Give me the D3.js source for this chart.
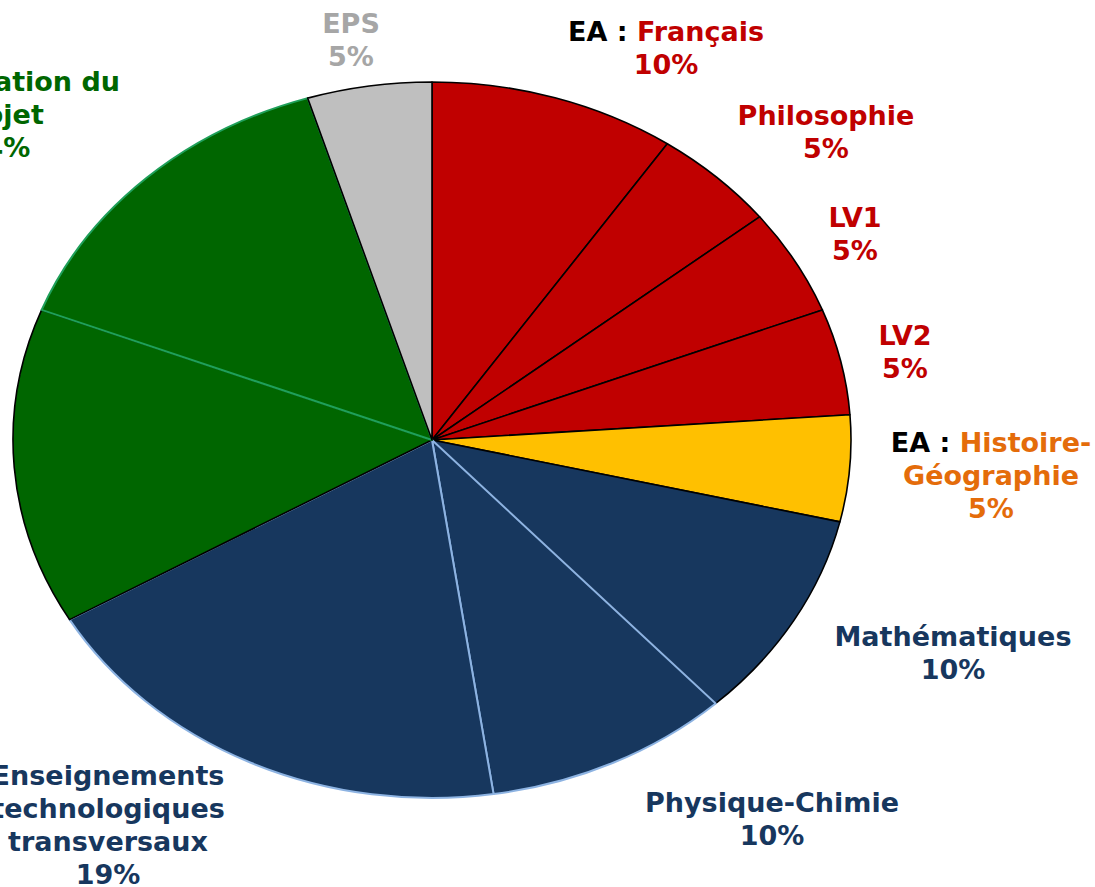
<!DOCTYPE html>
<html>
<head>
<meta charset="utf-8">
<script src="https://cdn.jsdelivr.net/npm/d3@7"></script>
<style>
  html, body { margin: 0; padding: 0; background: #fff; overflow: hidden; }
  text { font-family: "DejaVu Sans", Verdana, sans-serif; font-weight: bold; font-size: 27px; }
</style>
</head>
<body>
<div id="vis"></div>
<script>
// Data (share of the total, clockwise from 12 o'clock)
var subjects = ['Français', 'Philosophie', 'LV1', 'LV2', 'Histoire-Géographie',
  'Mathématiques', 'Physique-Chimie', 'Enseignements technologiques transversaux',
  'Enseignement spécifique', 'Présentation du projet', 'EPS'];
var shares = [9.5, 4.8, 4.8, 4.8, 4.8, 9.5, 9.5, 19.0, 14.3, 14.3, 4.8];
var shareLabels = ['10%', '5%', '5%', '5%', '5%', '10%', '10%', '19%', '14%', '14%', '5%'];
var groups = ['red', 'red', 'red', 'red', 'yellow', 'blue', 'blue', 'blue', 'green', 'green', 'gray'];

// Constants for sizing
var width = 1095;
var height = 887;
var center = { x: 432, y: 440 };
var rx = 419;
var ry = 358;

var fillColor = {
  red: '#C00000', yellow: '#FFC000', blue: '#17375E', green: '#006600', gray: '#BFBFBF'
};
var textColor = {
  red: '#C00000', yellow: '#E46C0A', blue: '#17375E', green: '#006600', gray: '#A6A6A6'
};
// outline of each slice (slices are drawn in order, later ones cover shared edges)
var sliceStroke = {
  'Physique-Chimie': '#8DB3E2',
  'Enseignements technologiques transversaux': '#8DB3E2',
  'Présentation du projet': '#1FA05A'
};

// label layout: centre x, first baseline, text lines (prefix "EA : " drawn in black)
var labelLayout = {
  'Français': { x: 666, y: 41, lines: ['Français'], prefix: 'EA : ' },
  'Philosophie': { x: 826, y: 125, lines: ['Philosophie'] },
  'LV1': { x: 855, y: 227, lines: ['LV1'] },
  'LV2': { x: 905, y: 345, lines: ['LV2'] },
  'Histoire-Géographie': { x: 991, y: 452, lines: ['Histoire-', 'Géographie'], prefix: 'EA : ' },
  'Mathématiques': { x: 953, y: 646, lines: ['Mathématiques'] },
  'Physique-Chimie': { x: 772, y: 812, lines: ['Physique-Chimie'] },
  'Enseignements technologiques transversaux': { x: 108, y: 785, lines: ['Enseignements', 'technologiques', 'transversaux'] },
  'Présentation du projet': { x: -2, y: 91, lines: ['Présentation du', 'projet'] },
  'EPS': { x: 351, y: 33, lines: ['EPS'] }
};
var lineHeight = 33;

var nodes = subjects.map(function (s, i) {
  return { name: s, value: shares[i], label: shareLabels[i], group: groups[i] };
});

var svg = d3.select('#vis')
  .append('svg')
  .attr('width', width)
  .attr('height', height);

var pie = d3.pie()
  .sort(null)
  .value(function (d) { return d.value; });

var arc = d3.arc()
  .innerRadius(0)
  .outerRadius(ry);

// pie is drawn as a circle then stretched horizontally into an ellipse
var pieG = svg.append('g')
  .attr('transform', 'translate(' + center.x + ',' + center.y + ') scale(' + (rx / ry) + ',1)');

pieG.selectAll('.slice')
  .data(pie(nodes))
  .enter().append('path')
  .attr('class', 'slice')
  .attr('d', arc)
  .attr('fill', function (d) { return fillColor[d.data.group]; })
  .attr('stroke', function (d) { return sliceStroke[d.data.name] || '#000'; })
  .attr('stroke-width', function (d) { return sliceStroke[d.data.name] ? 2 : 1.6; })
  .attr('stroke-linejoin', 'round')
  .attr('vector-effect', 'non-scaling-stroke');

// labels
var labels = svg.selectAll('.label')
  .data(nodes.filter(function (d) { return labelLayout[d.name]; }))
  .enter().append('text')
  .attr('class', 'label')
  .attr('text-anchor', 'middle')
  .attr('fill', function (d) { return textColor[d.group]; });

labels.each(function (d) {
  var pos = labelLayout[d.name];
  var t = d3.select(this);
  var lines = pos.lines.concat([d.label]);
  lines.forEach(function (line, i) {
    var ts = t.append('tspan')
      .attr('x', pos.x)
      .attr('y', pos.y + i * lineHeight);
    if (i === 0 && pos.prefix) {
      ts.append('tspan').attr('fill', '#000').text(pos.prefix);
      ts.append('tspan').text(line);
    } else {
      ts.text(line);
    }
  });
});
</script>
</body>
</html>
